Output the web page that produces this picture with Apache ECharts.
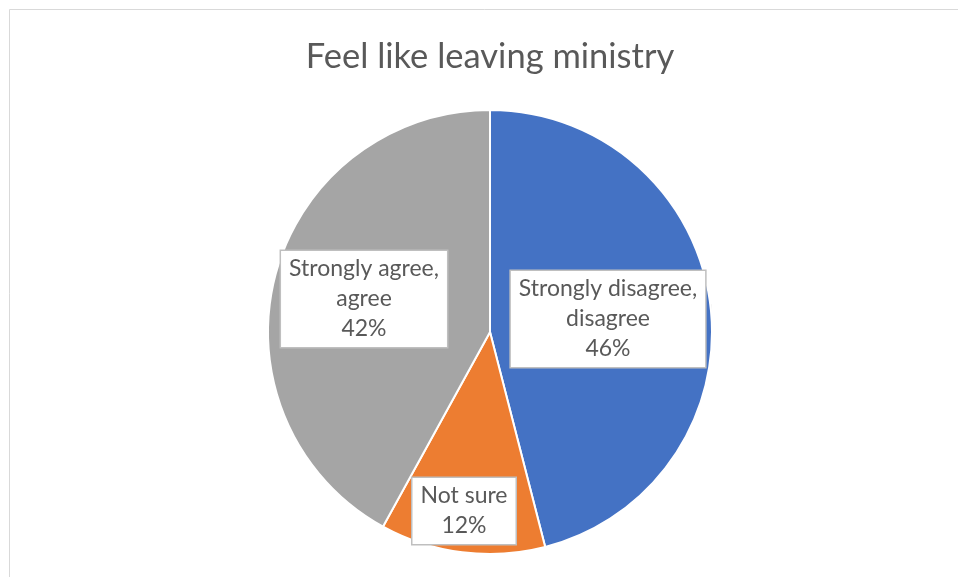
<!DOCTYPE html>
<html>
<head>
<meta charset="utf-8">
<script src="https://cdn.jsdelivr.net/npm/echarts@6/dist/echarts.min.js"></script>
<style>
  html, body { margin: 0; padding: 0; background: #ffffff; }
  #chart { width: 958px; height: 577px; }
</style>
</head>
<body>
<div id="chart"></div>
<script>
// Survey answers, in drawing order (clockwise from 12 o'clock)
const categories = ['Strongly disagree, disagree', 'Not sure', 'Strongly agree, agree'];
const shares = [46, 12, 42];
const sliceColors = ['#4472C4', '#ED7D31', '#A5A5A5'];
const chartTitle = 'Feel like leaving ministry';

// Where each callout box sits (centre of the box)
const calloutCentres = [[608, 319], [464, 511], [364, 299]];

const chart = echarts.init(document.getElementById('chart'), null, { renderer: 'canvas' });

const FONT = 'Lato, "Open Sans", sans-serif';

chart.setOption({
  animation: false,
  backgroundColor: '#ffffff',
  title: {
    text: chartTitle,
    left: 485,
    top: 34,
    textAlign: 'center',
    textStyle: { fontFamily: FONT, fontSize: 34.5, fontWeight: 'normal', color: '#595959' }
  },
  graphic: [{
    type: 'rect',
    silent: true,
    shape: { x: 9.5, y: 9.5, width: 980, height: 620 },
    style: { fill: 'none', stroke: '#d9d9d9', lineWidth: 1 }
  }],
  series: [{
    type: 'pie',
    center: [490, 332],
    radius: 222,
    startAngle: 90,
    clockwise: true,
    avoidLabelOverlap: false,
    itemStyle: { borderColor: '#ffffff', borderWidth: 2 },
    label: {
      show: true,
      position: 'outside',
      formatter: p => p.name.replace(', ', ',\n') + '\n' + Math.round(p.percent) + '%',
      fontFamily: FONT,
      fontSize: 23,
      lineHeight: 30,
      color: '#595959',
      align: 'center',
      backgroundColor: '#ffffff',
      borderColor: '#bfbfbf',
      borderWidth: 1.5,
      padding: [3, 8, 3, 8]
    },
    labelLine: {
      show: true,
      length: 4,
      length2: 4,
      lineStyle: { color: '#bfbfbf', width: 2 }
    },
    labelLayout: p => ({
      x: calloutCentres[p.dataIndex][0],
      y: calloutCentres[p.dataIndex][1],
      align: 'center',
      verticalAlign: 'middle'
    }),
    data: categories.map((name, i) => ({
      name: name,
      value: shares[i],
      itemStyle: { color: sliceColors[i] }
    }))
  }]
});
</script>
</body>
</html>
